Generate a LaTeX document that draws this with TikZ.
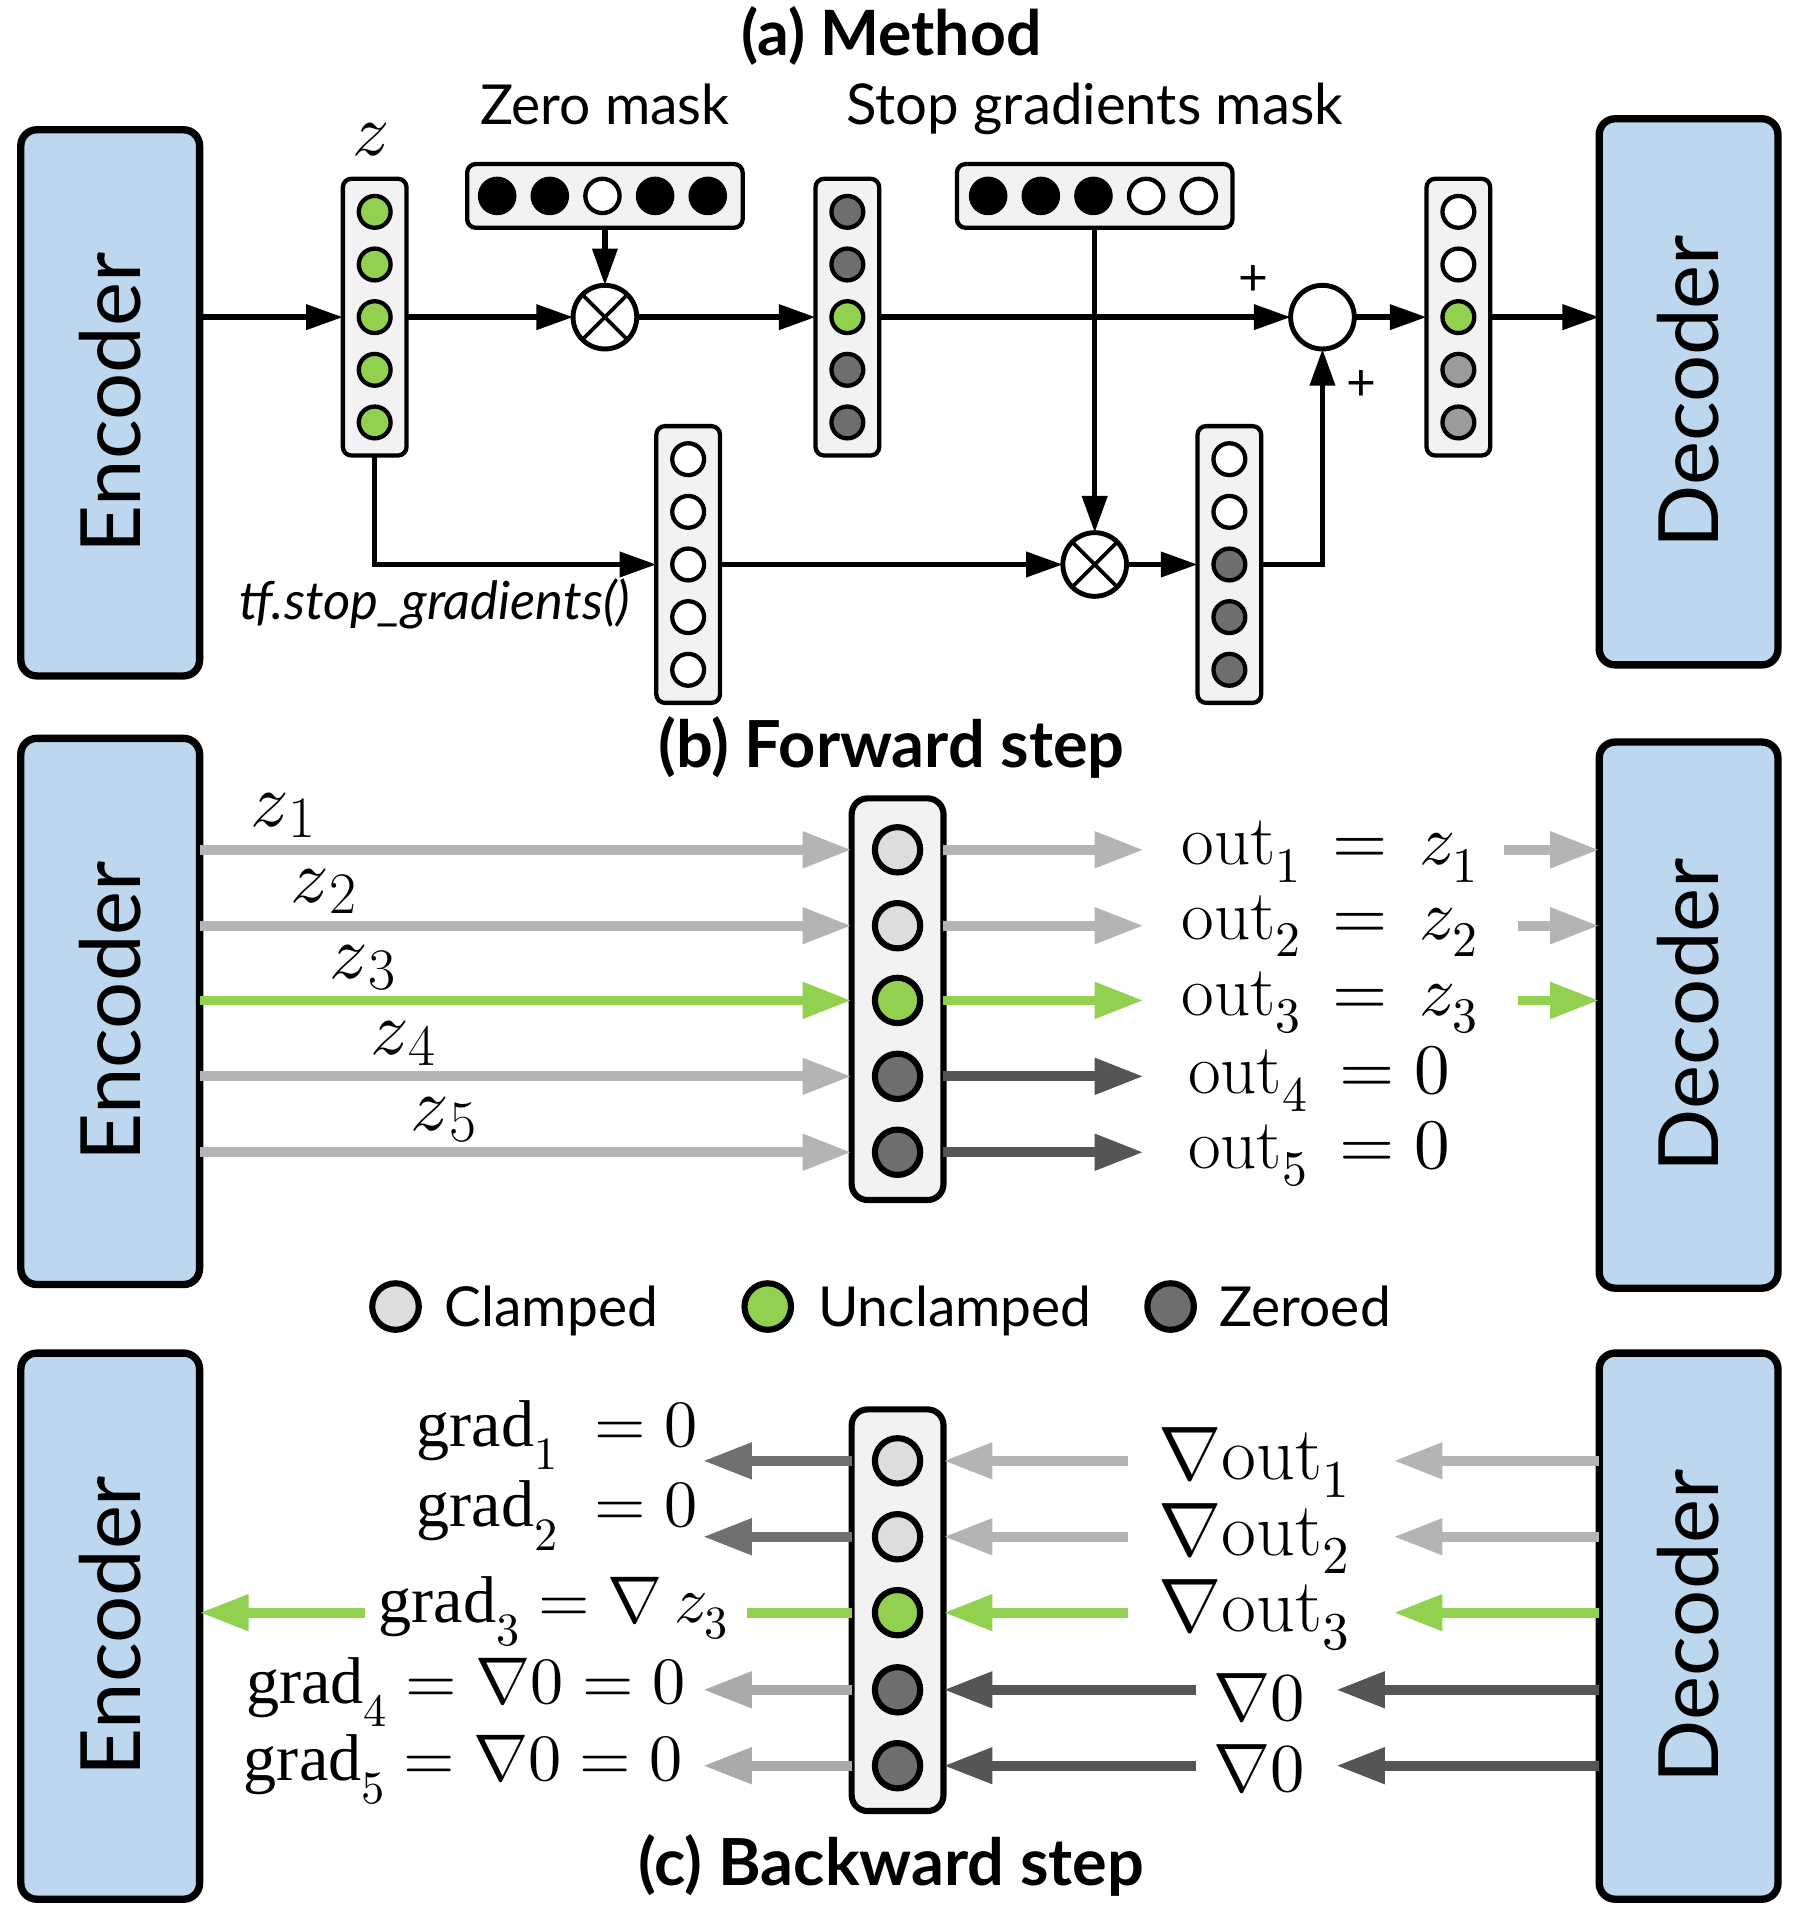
\documentclass[tikz,border=0pt]{standalone}
\usepackage{fontspec}
\usepackage{unicode-math}
\setmathfont{Latin Modern Math}
\newfontfamily\sansf{Lato}
\newfontfamily\timesf{Liberation Serif}
\newcommand\sbx[1]{\mbox{\kern1pt\raisebox{-9pt}{\fontsize{48}{48}\selectfont #1}}}
\usetikzlibrary{arrows.meta}
\definecolor{boxblue}{RGB}{189,215,238}
\definecolor{vecfill}{RGB}{242,242,242}
\definecolor{ugreen}{RGB}{146,208,80}
\definecolor{zgrey}{RGB}{110,110,110}
\definecolor{cgrey}{RGB}{221,221,221}
\definecolor{mgrey}{RGB}{155,155,155}
\definecolor{alight}{RGB}{180,180,180}
\definecolor{adark}{RGB}{85,85,85}
\definecolor{amid}{RGB}{112,112,112}
\definecolor{apale}{RGB}{170,170,170}
\tikzset{
  coder/.style={draw, line width=6pt, rounded corners=13pt, fill=boxblue, minimum width=146pt, minimum height=446pt, inner sep=0pt, outer sep=0pt},
  codertext/.style={rotate=90, font=\sansf\fontsize{68}{68}\selectfont, inner sep=0pt},
  ttl/.style={anchor=base, inner sep=0pt, font=\sansf\bfseries\fontsize{51}{51}\selectfont},
  stxt/.style={anchor=base, inner sep=0pt, font=\sansf\fontsize{45}{45}\selectfont},
  vecA/.style={draw, line width=3.5pt, fill=vecfill, rounded corners=7pt, minimum width=52pt, minimum height=226pt, inner sep=0pt, outer sep=0pt},
  maskbox/.style={draw, line width=3.5pt, fill=vecfill, rounded corners=7pt, minimum width=225pt, minimum height=52pt, inner sep=0pt, outer sep=0pt},
  na/.style={circle, draw, line width=3.5pt, minimum size=26pt, inner sep=0pt, outer sep=0pt},
  nm/.style={circle, draw, line width=3.5pt, minimum size=28pt, inner sep=0pt, outer sep=0pt},
  opc/.style={circle, draw, line width=4pt, fill=white, minimum size=52pt, inner sep=0pt, outer sep=0pt},
  arrA/.style={line width=4.5pt, -{Triangle[length=30pt,width=20pt]}},
  vecB/.style={draw, line width=5pt, fill=vecfill, rounded corners=13pt, minimum width=75pt, minimum height=328pt, inner sep=0pt, outer sep=0pt},
  nb/.style={circle, draw, line width=5pt, minimum size=37pt, inner sep=0pt, outer sep=0pt},
  big/.style={line width=8pt, -{Triangle[length=40pt,width=28pt]}},
  mlbl/.style={anchor=base west, inner sep=0pt, font=\fontsize{58}{58}\selectfont},
  glbl/.style={anchor=base west, inner sep=0pt, font=\fontsize{54}{54}\selectfont},
  zlbl/.style={anchor=base west, inner sep=0pt, font=\fontsize{62}{62}\selectfont},
}
\begin{document}
\begin{tikzpicture}[x=1pt,y=-1pt]
\useasboundingbox (0,0) rectangle (1468,1568);

% ================= (a) Method =================
\node[coder] (encA) at (90,329) {};
\node[codertext] (encAt) at (encA.center) {Encoder};
\node[coder] (decA) at (1379,320) {};
\node[codertext] (decAt) at (decA.center) {Decoder};
\node[ttl] (tA) at (728,45) {(a) Method};

\node[stxt] (zmt) at (494,102) {Zero mask};
\node[stxt, font=\sansf\fontsize{46}{46}\selectfont] (smt) at (894,102) {Stop gradients mask};
\node[anchor=base, inner sep=0pt, font=\fontsize{60}{60}\selectfont] (zlab) at (303,127) {$z$};

\node[vecA] (zv) at (306,259) {};
\foreach \i in {1,...,5} \node[na, fill=ugreen] (z\i) at (306,{259+(\i-3)*43}) {};

\node[maskbox] (zm) at (494,160) {};
\foreach \i/\col in {1/black,2/black,3/white,4/black,5/black}
  \node[nm, fill=\col] (zm\i) at ({492+(\i-3)*43},160) {};
\node[maskbox] (sm) at (894,160) {};
\foreach \i/\col in {1/black,2/black,3/black,4/white,5/white}
  \node[nm, fill=\col] (sm\i) at ({893+(\i-3)*43},160) {};

\node[opc] (m1) at (494,259) {};
\draw[line width=3pt] (m1.north east) -- (m1.south west) (m1.north west) -- (m1.south east);
\node[opc] (m2) at (894,461) {};
\draw[line width=3pt] (m2.north east) -- (m2.south west) (m2.north west) -- (m2.south east);
\node[opc] (pl) at (1080,259) {};

\node[vecA] (v2) at (692,259) {};
\foreach \i/\col in {1/zgrey,2/zgrey,3/ugreen,4/zgrey,5/zgrey}
  \node[na, fill=\col] (v2\i) at (692,{259+(\i-3)*43}) {};
\node[vecA] (v3) at (562,461) {};
\foreach \i in {1,...,5} \node[na, fill=white] (v3\i) at (562,{461+(\i-3)*43}) {};
\node[vecA] (v4) at (1004,461) {};
\foreach \i/\col in {1/white,2/white,3/zgrey,4/zgrey,5/zgrey}
  \node[na, fill=\col] (v4\i) at (1004,{461+(\i-3)*43}) {};
\node[vecA] (v5) at (1191,259) {};
\foreach \i/\col in {1/white,2/white,3/ugreen,4/mgrey,5/mgrey}
  \node[na, fill=\col] (v5\i) at (1191,{259+(\i-3)*43}) {};

\node[inner sep=0pt, font=\sansf\fontsize{42}{42}\selectfont] (plus1) at (1024,229) {+};
\node[inner sep=0pt, font=\sansf\fontsize{42}{42}\selectfont] (plus2) at (1112,315) {+};
\node[anchor=base east, inner sep=0pt, font=\sansf\itshape\fontsize{43}{43}\selectfont] (tfsg) at (515,506) {tf.stop\_gradients()};

\draw[arrA] (encA.east |- z3) -- (zv.west |- z3);
\draw[arrA] (zv.east) -- (m1.west);
\draw[arrA] (m1 |- zm.south) -- (m1.north);
\draw[arrA] (m1.east) -- (v2.west);
\draw[arrA] (m2 |- sm.south) -- (m2.north);
\draw[arrA] (v2.east) -- (pl.west);
\draw[arrA] (zv.south) |- (v3.west);
\draw[arrA] (v3.east) -- (m2.west);
\draw[arrA] (m2.east) -- (v4.west);
\draw[arrA] (v4.east) -| (pl.south);
\draw[arrA] (pl.east) -- (v5.west);
\draw[arrA] (v5.east) -- (decA.west |- v5);

% ================= (b) Forward step =================
\node[coder] (encB) at (90,826) {};
\node[codertext] (encBt) at (encB.center) {Encoder};
\node[coder] (decB) at (1379,829) {};
\node[codertext] (decBt) at (decB.center) {Decoder};
\node[ttl, font=\sansf\bfseries\fontsize{53}{53}\selectfont] (tB) at (728,627) {(b) Forward step};

\node[vecB] (vb) at (733,816) {};
\foreach \i/\col/\yy in {1/cgrey/694,2/cgrey/756,3/ugreen/817,4/zgrey/879,5/zgrey/941}
  \node[nb, fill=\col] (b\i) at (733,\yy) {};

\foreach \i/\yy/\xx in {1/694/1228,2/756/1240,3/817/1240,4/879/0,5/941/0} {
  \coordinate (fr\i) at (934,\yy);
  \coordinate (gr\i) at (\xx,\yy);
}
\foreach \i/\col in {1/alight,2/alight,3/ugreen,4/alight,5/alight}
  \draw[big, color=\col] (encB.east |- b\i) -- (vb.west |- b\i);
\foreach \i/\col in {1/alight,2/alight,3/ugreen,4/adark,5/adark}
  \draw[big, color=\col] (vb.east |- b\i) -- (fr\i);
\foreach \i/\col in {1/alight,2/alight,3/ugreen}
  \draw[big, color=\col] (gr\i) -- (decB.west |- b\i);

\node[zlbl] (zl1) at (204,675) {$z\sbx{1}$};
\node[zlbl] (zl2) at (237,737) {$z\sbx{2}$};
\node[zlbl] (zl3) at (269,799) {$z\sbx{3}$};
\node[zlbl] (zl4) at (302,861) {$z\sbx{4}$};
\node[zlbl] (zl5) at (335,923) {$z\sbx{5}$};

\node[mlbl] (ol1) at (965,706) {$\mathrm{out}_1 \,=\, z_1$};
\node[mlbl] (ol2) at (965,767) {$\mathrm{out}_2 \,=\, z_2$};
\node[mlbl] (ol3) at (965,829) {$\mathrm{out}_3 \,=\, z_3$};
\node[mlbl] (ol4) at (970,893) {$\mathrm{out}_4 \,= 0$};
\node[mlbl] (ol5) at (970,954) {$\mathrm{out}_5 \,= 0$};

% legend
\node[nb, minimum size=38pt, fill=cgrey] (lg1) at (323,1067) {};
\node[stxt, anchor=base west] (lg1t) at (363,1083) {Clamped};
\node[nb, minimum size=38pt, fill=ugreen] (lg2) at (627,1067) {};
\node[stxt, anchor=base west] (lg2t) at (668,1083) {Unclamped};
\node[nb, minimum size=38pt, fill=zgrey] (lg3) at (956,1067) {};
\node[stxt, anchor=base west] (lg3t) at (996,1083) {Zeroed};

% ================= (c) Backward step =================
\node[coder] (encC) at (90,1328) {};
\node[codertext] (encCt) at (encC.center) {Encoder};
\node[coder] (decC) at (1379,1328) {};
\node[codertext] (decCt) at (decC.center) {Decoder};
\node[ttl, font=\sansf\bfseries\fontsize{53}{53}\selectfont] (tC) at (728,1540) {(c) Backward step};

\node[vecB] (vc) at (733,1315) {};
\foreach \i/\col/\yy in {1/cgrey/1193,2/cgrey/1255,3/ugreen/1317,4/zgrey/1380,5/zgrey/1442}
  \node[nb, fill=\col] (c\i) at (733,\yy) {};

\foreach \i/\yy/\xa/\xb in {1/1193/1138/921,2/1255/1138/921,3/1317/1138/921,4/1380/1091/977,5/1442/1091/977} {
  \coordinate (hc\i) at (\xa,\yy);
  \coordinate (kc\i) at (\xb,\yy);
  \coordinate (lc\i) at (574,\yy);
}
\coordinate (g3a) at (610,1317);
\coordinate (g3b) at (298,1317);

\foreach \i/\col in {1/alight,2/alight,3/ugreen,4/adark,5/adark} {
  \draw[big, color=\col] (decC.west |- c\i) -- (hc\i);
  \draw[big, color=\col] (kc\i) -- (vc.east |- c\i);
}
\foreach \i/\col in {1/amid,2/amid,4/apale,5/apale}
  \draw[big, color=\col] (vc.west |- c\i) -- (lc\i);
\draw[line width=8pt, ugreen] (vc.west |- c3) -- (g3a);
\draw[big, color=ugreen] (g3b) -- (encC.east |- c3);

\node[mlbl, font=\fontsize{62}{62}\selectfont] (nl1) at (946,1208) {$\nabla\mathrm{out}_1$};
\node[mlbl, font=\fontsize{62}{62}\selectfont] (nl2) at (946,1270) {$\nabla\mathrm{out}_2$};
\node[mlbl, font=\fontsize{62}{62}\selectfont] (nl3) at (946,1332) {$\nabla\mathrm{out}_3$};
\node[mlbl, font=\fontsize{56}{56}\selectfont] (nl4) at (991,1405) {$\nabla 0$};
\node[mlbl, font=\fontsize{56}{56}\selectfont] (nl5) at (991,1463) {$\nabla 0$};

\node[glbl] (gl1) at (340,1181) {$\mbox{\timesf grad}_1\; = 0$};
\node[glbl] (gl2) at (340,1247) {$\mbox{\timesf grad}_2\; = 0$};
\node[glbl] (gl3) at (309,1325) {$\mbox{\timesf grad}_3 = \nabla\, z_3$};
\node[glbl] (gl4) at (201,1391) {$\mbox{\timesf grad}_4 = \nabla 0 = 0$};
\node[glbl] (gl5) at (199,1454) {$\mbox{\timesf grad}_5 = \nabla 0 = 0$};

\end{tikzpicture}
\end{document}
